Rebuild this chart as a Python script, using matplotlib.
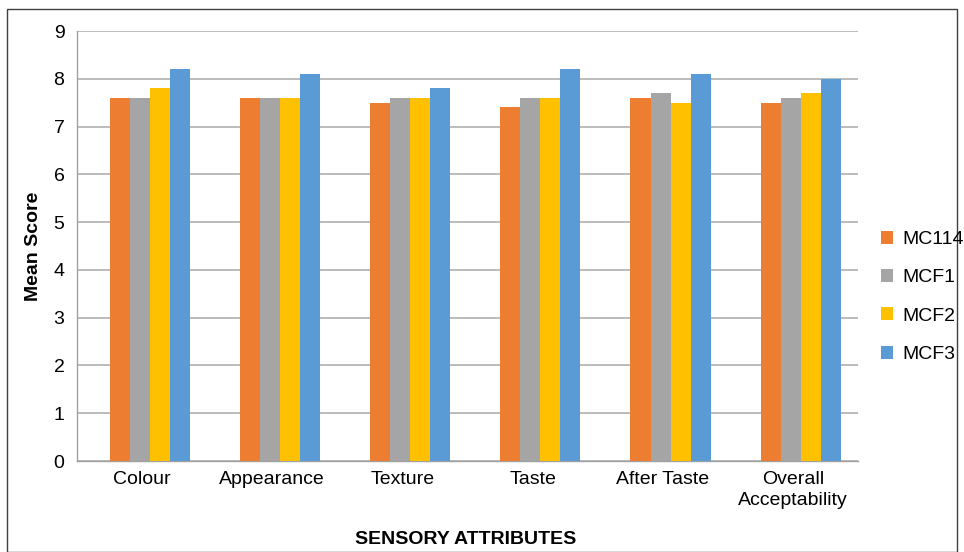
import matplotlib
matplotlib.use("Agg")
import matplotlib.pyplot as plt
import numpy as np
from matplotlib.patches import Rectangle

plt.rcParams['font.family'] = ['Liberation Sans', 'DejaVu Sans']

categories = ["Colour", "Appearance", "Texture", "Taste", "After Taste", "Overall\nAcceptability"]
series_names = ["MC114", "MCF1", "MCF2", "MCF3"]
mc114 = [7.6, 7.6, 7.5, 7.4, 7.6, 7.5]
mcf1 = [7.6, 7.6, 7.6, 7.6, 7.7, 7.6]
mcf2 = [7.8, 7.6, 7.6, 7.6, 7.5, 7.7]
mcf3 = [8.2, 8.1, 7.8, 8.2, 8.1, 8.0]
colors = ["#ED7D31", "#A5A5A5", "#FFC000", "#5B9BD5"]
yticks = list(range(0, 10))

fs = 14
fig = plt.figure(figsize=(9.64, 5.52), dpi=100)
ax = fig.add_axes([77/964, 1-461/552, (858-77)/964, (461-31)/552])

x = np.arange(len(categories))
bw = 0.154
group_shift = 0.06
data = [mc114, mcf1, mcf2, mcf3]
for i, (vals, c, name) in enumerate(zip(data, colors, series_names)):
    ax.bar(x + group_shift + (i - 1.5) * bw, vals, width=bw, color=c, label=name, zorder=3)

ax.set_xlim(-0.5, len(categories) - 0.5)
ax.set_ylim(0, 9)
ax.set_yticks(yticks)
ax.set_yticklabels([str(t) for t in yticks], fontsize=fs)
ax.set_xticks(x)
ax.set_xticklabels(categories, fontsize=fs, linespacing=1.35)
ax.tick_params(axis='y', length=0, pad=9)
ax.tick_params(axis='x', length=0, pad=7)
ax.grid(axis='y', color='#B0B0B0', linewidth=1.2, zorder=0)
for s in ['top', 'right']:
    ax.spines[s].set_visible(False)
ax.spines['left'].set_color('#A0A0A0')
ax.spines['bottom'].set_color('#A0A0A0')
ax.spines['left'].set_linewidth(1.0)
ax.spines['bottom'].set_linewidth(1.0)

ax.set_ylabel("Mean Score", fontsize=fs, fontweight='bold', labelpad=8)
fig.text(466/964, 1-539/552, "SENSORY ATTRIBUTES", fontsize=fs, fontweight='bold',
         ha='center', va='center')

leg = fig.legend(loc='center left', bbox_to_anchor=(871/964, 1-297/552), frameon=False,
                 fontsize=fs, handlelength=0.65, handleheight=0.65, labelspacing=1.08,
                 handletextpad=0.45, borderpad=0)

fig.patches.append(Rectangle((7/964, 0), (957-7)/964, 1-9/552, transform=fig.transFigure,
                             fill=False, edgecolor='#404040', linewidth=1.0))

fig.savefig("out.png", dpi=100)
